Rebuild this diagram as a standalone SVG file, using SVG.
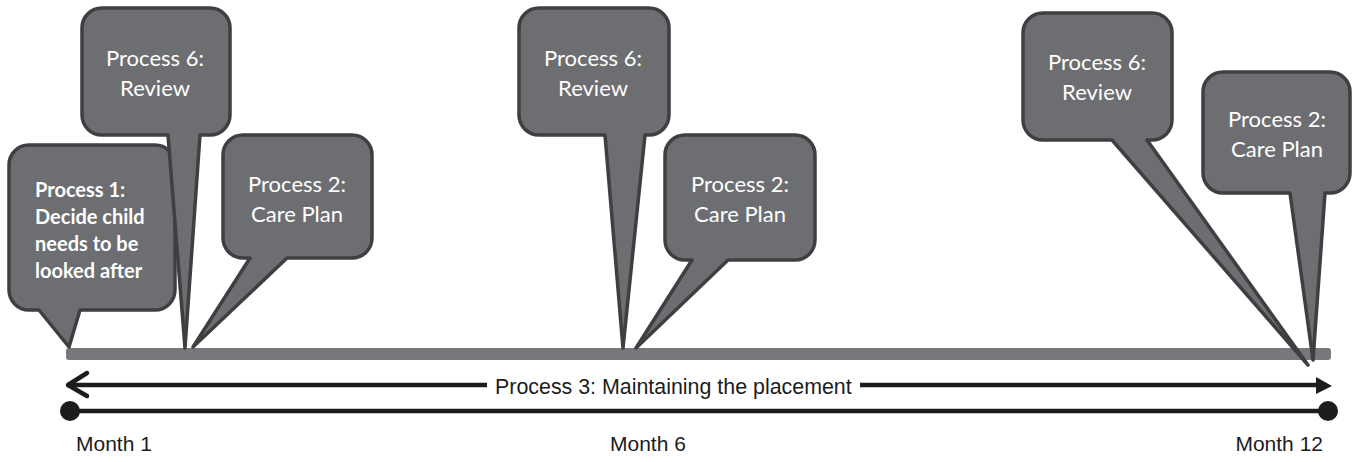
<svg xmlns="http://www.w3.org/2000/svg" width="1359" height="462" viewBox="0 0 1359 462">
  <defs>
    <style>
      .bubble { fill: #6d6e71; stroke: #3f3f42; stroke-width: 3.5; stroke-linejoin: round; }
      .btxt { fill: #ffffff; font-family: Lato, "Open Sans", sans-serif; font-size: 22px; text-anchor: middle; }
      .bold { font-weight: bold; font-size: 20px; text-anchor: start; }
      .line { stroke: #1c1c1c; stroke-width: 4.5; fill: none; }
      .lbl { fill: #1c1c1c; font-family: "Liberation Sans", Arial, sans-serif; font-size: 21px; }
      .span { font-size: 21.4px; }
    </style>
  </defs>

  <!-- timeline bar -->
  <rect id="bar" x="66" y="348" width="1265" height="12" rx="3" fill="#77787b"/>

  <!-- Process 3 span arrow and month axis -->
  <g id="connectors">
    <line class="line" x1="67" y1="385" x2="487" y2="385"/>
    <line class="line" x1="860" y1="385" x2="1318" y2="385"/>
    <polyline class="line" points="87,373 68,385 87,396" stroke-width="5" stroke-linecap="round" stroke-linejoin="round"/>
    <polygon points="1316,377 1332,386 1316,394" fill="#1c1c1c"/>
    <line class="line" x1="70" y1="411" x2="1328" y2="411" stroke-width="5"/>
    <circle cx="70" cy="411" r="10" fill="#1c1c1c"/>
    <circle cx="1328" cy="411" r="10" fill="#1c1c1c"/>
  </g>

  <text id="process3" class="lbl span" x="495" y="394">Process 3: Maintaining the placement</text>
  <text id="month1" class="lbl" x="76" y="451">Month 1</text>
  <text id="month6" class="lbl" x="610" y="451">Month 6</text>
  <text id="month12" class="lbl" x="1323" y="451" text-anchor="end">Month 12</text>

  <!-- Process 1 -->
  <g id="p1">
    <path class="bubble" d="M29,145 H155 A20,20 0 0 1 175,165 V290 A20,20 0 0 1 155,310 H80 L69,347 L39,310 H29 A20,20 0 0 1 9,290 V165 A20,20 0 0 1 29,145 Z"/>
    <text class="btxt bold" x="35" y="197">Process 1:</text>
    <text class="btxt bold" x="35" y="224">Decide child</text>
    <text class="btxt bold" x="35" y="251">needs to be</text>
    <text class="btxt bold" x="35" y="278">looked after</text>
  </g>

  <!-- Process 6, month 1 -->
  <g id="p6a">
    <path class="bubble" d="M102,8 H210 A20,20 0 0 1 230,28 V115 A20,20 0 0 1 210,135 H200 L185,348 L168,135 H102 A20,20 0 0 1 82,115 V28 A20,20 0 0 1 102,8 Z"/>
    <text class="btxt" x="155" y="66">Process 6:</text>
    <text class="btxt" x="155" y="96">Review</text>
  </g>

  <!-- Process 2, month 1 -->
  <g id="p2a">
    <path class="bubble" d="M243,135 H352 A20,20 0 0 1 372,155 V238 A20,20 0 0 1 352,258 H287 L193,347 L250,258 H243 A20,20 0 0 1 223,238 V155 A20,20 0 0 1 243,135 Z"/>
    <text class="btxt" x="297" y="192">Process 2:</text>
    <text class="btxt" x="297" y="222">Care Plan</text>
  </g>

  <!-- Process 6, month 6 -->
  <g id="p6b">
    <path class="bubble" d="M539,8 H649 A20,20 0 0 1 669,28 V115 A20,20 0 0 1 649,135 H645 L623,348 L605,135 H539 A20,20 0 0 1 519,115 V28 A20,20 0 0 1 539,8 Z"/>
    <text class="btxt" x="593" y="66">Process 6:</text>
    <text class="btxt" x="593" y="96">Review</text>
  </g>

  <!-- Process 2, month 6 -->
  <g id="p2b">
    <path class="bubble" d="M685,135 H795 A20,20 0 0 1 815,155 V240 A20,20 0 0 1 795,260 H728 L636,348 L692,260 H685 A20,20 0 0 1 665,240 V155 A20,20 0 0 1 685,135 Z"/>
    <text class="btxt" x="740" y="192">Process 2:</text>
    <text class="btxt" x="740" y="222">Care Plan</text>
  </g>

  <!-- Process 6, month 12 -->
  <g id="p6c">
    <path class="bubble" d="M1043,13 H1152 A20,20 0 0 1 1172,33 V120 A20,20 0 0 1 1152,140 H1147 L1308,365 L1112,140 H1043 A20,20 0 0 1 1023,120 V33 A20,20 0 0 1 1043,13 Z"/>
    <text class="btxt" x="1097" y="70">Process 6:</text>
    <text class="btxt" x="1097" y="100">Review</text>
  </g>

  <!-- Process 2, month 12 -->
  <g id="p2c">
    <path class="bubble" d="M1223,72 H1330 A20,20 0 0 1 1350,92 V173 A20,20 0 0 1 1330,193 H1325 L1313,360 L1290,193 H1223 A20,20 0 0 1 1203,173 V92 A20,20 0 0 1 1223,72 Z"/>
    <text class="btxt" x="1277" y="127">Process 2:</text>
    <text class="btxt" x="1277" y="157">Care Plan</text>
  </g>
</svg>
